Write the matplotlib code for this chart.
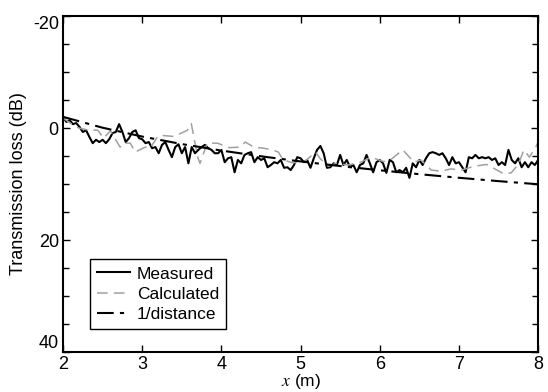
import numpy as np
import matplotlib
matplotlib.use("Agg")
import matplotlib.pyplot as plt
from matplotlib.ticker import MultipleLocator

plt.rcParams['font.family'] = ['Liberation Sans', 'DejaVu Sans']
plt.rcParams['axes.unicode_minus'] = False
plt.rcParams['mathtext.fontset'] = 'stix'

# measured transmission loss (dB), evenly spaced from 2 m to 8 m
measured = [
    -2.0, -1.1, -1.4, -0.7, -0.9, -0.2, 0.7, 0.4, 1.6, 2.7, 2.1, 2.5, 2.1, 2.7, 2.0, 0.9, 0.7, -0.7, 0.7, 2.5, 1.8, 0.7, 0.4, 1.8,
    2.0, 2.7, 2.5, 3.6, 3.4, 4.5, 3.0, 2.5, 3.9, 5.2, 3.4, 2.9, 4.5, 3.4, 6.3, 3.4, 4.5, 3.9, 3.4, 3.0, 3.6, 3.9, 4.5, 4.5,
    3.9, 6.1, 5.4, 5.2, 7.9, 5.7, 6.3, 4.8, 4.5, 4.3, 6.1, 5.2, 5.7, 5.4, 7.0, 6.6, 6.1, 6.3, 5.7, 7.1, 7.0, 7.5, 6.6, 5.2,
    5.4, 6.1, 5.7, 7.1, 5.4, 3.9, 3.2, 4.5, 7.1, 7.0, 6.3, 6.6, 4.8, 6.6, 5.7, 7.0, 6.6, 7.9, 6.6, 6.3, 4.8, 6.3, 7.9, 6.1, 5.7,
    6.3, 8.0, 5.7, 6.1, 7.9, 7.5, 7.9, 7.1, 8.9, 6.3, 7.0, 5.7, 6.6, 5.4, 4.5, 4.3, 4.5, 4.8, 4.5, 5.4, 6.6, 5.2, 6.3, 6.1,
    7.0, 7.9, 5.2, 5.4, 4.8, 5.4, 5.2, 5.4, 5.2, 5.7, 5.4, 6.6, 6.1, 6.6, 3.9, 5.7, 6.3, 5.4, 7.0, 6.1, 7.0, 6.1, 6.6, 5.7,
]
x_meas = np.linspace(2, 8, len(measured))

# calculated
x_calc = [2.0, 2.1, 2.2, 2.3, 2.44, 2.51, 2.6, 2.72, 2.76, 2.85, 2.91, 3.04, 3.1, 3.19, 3.23, 3.4,
          3.57, 3.62, 3.7, 3.73, 3.82, 3.95, 4.1, 4.24, 4.3, 4.41, 4.53, 4.65, 4.72, 4.78, 4.9,
          5.05, 5.19, 5.25, 5.35, 5.45, 5.6, 5.76, 5.89, 6.05, 6.15, 6.29, 6.35, 6.43, 6.52, 6.65,
          6.77, 6.9, 7.03, 7.2, 7.35, 7.57, 7.66, 7.75, 7.82, 7.89, 7.97, 8.0]
calculated = [-1.8, -0.8, 0.0, 0.3, 0.4, 1.8, 0.5, 3.4, 2.7, 2.7, 4.3, 3.4, 3.6, 1.6, 1.3, 1.5,
              0.4, -0.8, 5.2, 6.3, 2.7, 2.7, 3.5, 3.4, 2.5, 3.4, 3.6, 3.9, 4.3, 5.7, 6.2,
              6.0, 4.3, 5.5, 6.8, 6.3, 6.6, 6.1, 5.2, 6.0, 5.5, 3.9, 4.8, 6.1, 5.7, 7.5,
              7.7, 7.3, 7.5, 6.8, 6.5, 8.2, 8.0, 6.5, 3.9, 5.2, 3.4, 2.5]

# 1/distance spreading
x_dist = [2.0, 2.5, 3.0, 3.5, 4.0, 4.5, 5.0, 5.5, 6.0, 6.5, 7.0, 7.5, 8.0]
dist = [-2.0, -0.06, 1.52, 2.86, 4.02, 5.04, 5.96, 6.79, 7.54, 8.24, 8.88, 9.48, 10.04]

fig = plt.figure(figsize=(5.48, 3.92), dpi=100)
ax = fig.add_axes([0.115, 0.102, 0.867, 0.857])

ax.plot(x_meas, measured, color='black', lw=1.5, label='Measured')
ax.plot(x_calc, calculated, color='#a0a0a0', lw=1.1, dashes=(7, 4), label='Calculated')
ax.plot(x_dist, dist, color='black', lw=1.5, dashes=(8, 3, 2, 3), label='1/distance')

ax.set_xlim(2, 8)
ax.set_ylim(40, -20)
ax.set_xticks([2, 3, 4, 5, 6, 7, 8])
ax.set_yticks([-20, 0, 20, 40])
ax.yaxis.set_minor_locator(MultipleLocator(5))
ax.tick_params(which='both', direction='in', top=True, right=True, labelsize=13, width=1.0)
ax.tick_params(which='major', length=5)
ax.tick_params(axis='x', pad=3)
ax.tick_params(axis='y', pad=3)
ax.tick_params(which='minor', length=4)
for s in ax.spines.values():
    s.set_linewidth(1.5)

# end labels sit inside the axis range, as in the original
yt = ax.yaxis.get_major_ticks()
yt[0].label1.set_va('top')
yt[-1].label1.set_va('bottom')

ax.set_xlabel(r'$x$ (m)', fontsize=12.5, labelpad=-1)
ax.set_ylabel('Transmission loss (dB)', fontsize=13, labelpad=4)

leg = ax.legend(loc='lower left', bbox_to_anchor=(0.057, 0.068), borderaxespad=0,
                fontsize=12.5, handlelength=1.9, handletextpad=0.4, labelspacing=0.3,
                borderpad=0.4, fancybox=False, framealpha=1, edgecolor='black')
leg.get_frame().set_linewidth(1.0)

fig.savefig('out.png', dpi=100)
